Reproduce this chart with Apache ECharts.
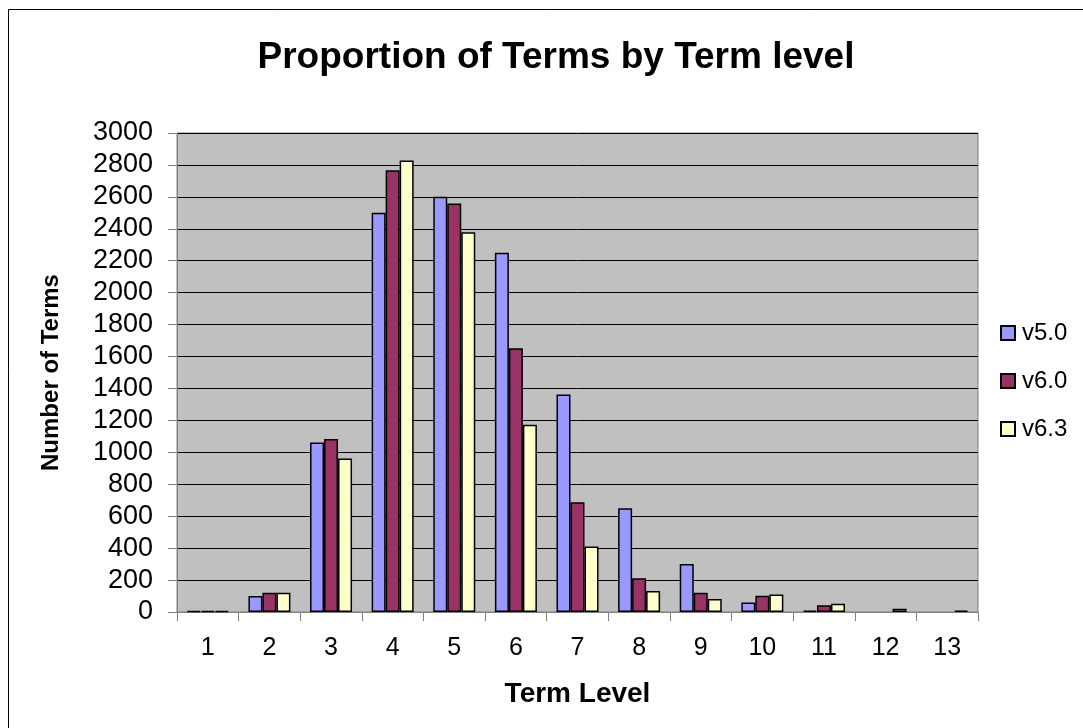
<!DOCTYPE html>
<html>
<head>
<meta charset="utf-8">
<script src="https://cdn.jsdelivr.net/npm/echarts@6/dist/echarts.min.js"></script>
<style>
html,body{margin:0;padding:0;background:#fff;}
#chart{width:1083px;height:728px;}
</style>
</head>
<body>
<div id="chart"></div>
<script>
const categories = ['1','2','3','4','5','6','7','8','9','10','11','12','13'];
const seriesNames = ['v5.0','v6.0','v6.3'];
const v50 = [7, 100, 1062, 2500, 2600, 2250, 1362, 650, 300, 60, 8, 0, 0];
const v60 = [7, 120, 1083, 2766, 2558, 1652, 687, 211, 121, 102, 42, 0, 0];
const v63 = [7, 120, 962, 2827, 2379, 1173, 410, 131, 81, 110, 52, 20, 8];
const colors = ['#9999FF', '#993366', '#FFFFCC'];

const font = '"Liberation Sans", Arial, sans-serif';
const chart = echarts.init(document.getElementById('chart'), null, {renderer: 'canvas'});
const data = [v50, v60, v63].map(arr => arr.map(v => v === 0 ? '-' : v));
chart.setOption({
  animation: false,
  backgroundColor: '#ffffff',
  title: {
    text: 'Proportion of Terms by Term level',
    left: 551, textAlign: 'center', top: 34,
    textStyle: {fontFamily: font, fontWeight: 'bold', fontSize: 37, color: '#000'}
  },
  graphic: [{
    type: 'rect', shape: {x: 8.5, y: 9.5, width: 1200, height: 900},
    style: {fill: 'none', stroke: '#000', lineWidth: 1}, silent: true, z: 100
  }],
  legend: {
    orient: 'vertical', left: 995, top: 316,
    itemWidth: 14, itemHeight: 14, itemGap: 24,
    icon: 'rect',
    textStyle: {fontFamily: font, fontSize: 24, color: '#000', padding: [0,0,0,2]},
    data: seriesNames
  },
  grid: {
    left: 177, right: 105, top: 133, bottom: 116,
    show: true, backgroundColor: '#C0C0C0', borderColor: '#808080', borderWidth: 1,
    containLabel: false
  },
  xAxis: {
    type: 'category', data: categories,
    axisLine: {show: true, lineStyle: {color: '#808080', width: 1}},
    axisTick: {show: true, length: 9, lineStyle: {color: '#808080'}},
    axisLabel: {fontFamily: font, fontSize: 25, color: '#000', margin: 24},
    name: 'Term Level', nameLocation: 'middle', nameGap: 68,
    nameTextStyle: {fontFamily: font, fontWeight: 'bold', fontSize: 28, color: '#000'}
  },
  yAxis: {
    type: 'value', min: 0, max: 3000, interval: 200,
    axisLine: {show: true, lineStyle: {color: '#808080', width: 1}},
    axisTick: {show: true, length: 9, lineStyle: {color: '#808080'}},
    axisLabel: {fontFamily: font, fontSize: 27, color: '#000', margin: 24, formatter: v => String(v)},
    splitLine: {show: true, lineStyle: {color: '#000', width: 1}},
    name: 'Number of Terms', nameLocation: 'middle', nameGap: 114,
    nameTextStyle: {fontFamily: font, fontWeight: 'bold', fontSize: 24, color: '#000'}
  },
  series: seriesNames.map((n, i) => ({
    name: n, type: 'bar', data: data[i],
    barWidth: 14, barGap: '0%',
    itemStyle: {color: colors[i], borderColor: '#000', borderWidth: 1.5},
    emphasis: {disabled: true}
  }))
});
</script>
</body>
</html>
